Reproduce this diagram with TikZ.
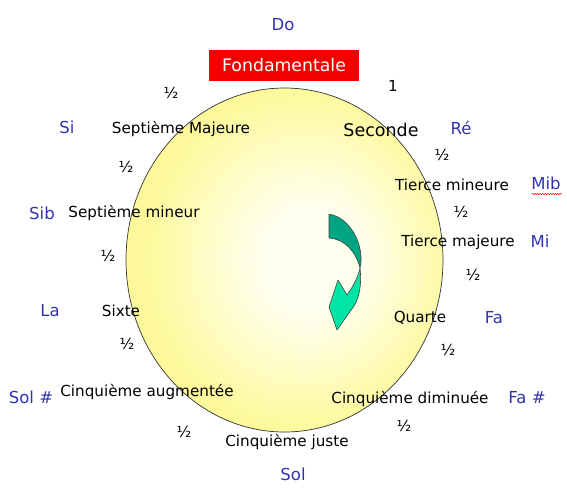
\documentclass[tikz,border=0pt]{standalone}
\usepackage{fontspec}
\setmainfont{DejaVu Sans}
\usetikzlibrary{decorations.pathmorphing}
\definecolor{notecol}{RGB}{50,50,175}
\definecolor{boxred}{RGB}{245,0,0}
\definecolor{cin}{RGB}{255,255,238}
\definecolor{cout}{RGB}{253,249,155}
\definecolor{darkarr}{RGB}{0,165,130}
\definecolor{lightarr}{RGB}{0,228,165}
\pgfdeclareradialshading{sunshade}{\pgfpoint{5bp}{0bp}}{color(0bp)=(cin); color(8bp)=(cin); color(25bp)=(cout); color(50bp)=(cout)}
\tikzset{
  note/.style={text=notecol, font=\fontsize{16.5}{19}\selectfont, inner sep=0pt},
  interval/.style={text=black, font=\fontsize{15.2}{18}\selectfont, inner sep=0pt},
  half/.style={text=black, font=\fontsize{15.2}{18}\selectfont, inner sep=0pt},
  arrpart/.style={draw=black!75, line width=0.6pt, line join=round},
}
\begin{document}
\begin{tikzpicture}[x=1pt,y=-1pt]
\useasboundingbox (0,0) rectangle (567,490);
% circle
\path[shading=sunshade, draw=black!80, line width=0.7pt] (284.5,260) ellipse [x radius=158.5, y radius=172];
% top box
\node[fill=boxred, text=white, minimum width=150pt, minimum height=31pt, inner sep=0pt,
      font=\fontsize{17.3}{20}\selectfont] (fond) at (284,65.5) {Fondamentale};
% arrow
\path[arrpart, fill=darkarr]
  (329,214) .. controls (352,218) and (365,248) .. (360,268)
  .. controls (356,252) and (345,239) .. (329,238) -- cycle;
\path[arrpart, fill=lightarr]
  (360,268) .. controls (362,285) and (359,298) .. (354,306)
  -- (337,330) -- (329,307) -- (338,280) -- (347,295)
  .. controls (352,288) and (358,278) .. (360,268) -- cycle;
% note names
\node[note] (do) at (283,25) {Do};
\node[note] (re) at (461,128) {Ré};
\node[note] (mib) at (546,183) {Mib};
\draw[red, line width=0.5pt, decorate, decoration={snake, amplitude=0.7pt, segment length=2.5pt}] (532,194) -- (562,194);
\node[note] (mi) at (540,241) {Mi};
\node[note] (fa) at (494,318) {Fa};
\node[note] (fad) at (527,398) {Fa \#};
\node[note] (sol) at (293,474) {Sol};
\node[note] (sold) at (31,397) {Sol \#};
\node[note] (la) at (50,311) {La};
\node[note] (sib) at (42,213) {Sib};
\node[note] (si) at (67,127) {Si};
% intervals
\node[interval, font=\fontsize{17.5}{20}\selectfont] (sec) at (381,130) {Seconde};
\node[interval] (tmin) at (452,185) {Tierce mineure};
\node[interval] (tmaj) at (458,242) {Tierce majeure};
\node[interval] (qua) at (420,318) {Quarte};
\node[interval] (cdim) at (410,399) {Cinquième diminuée};
\node[interval] (cjus) at (287,442) {Cinquième juste};
\node[interval] (caug) at (147,392) {Cinquième augmentée};
\node[interval] (six) at (121,311) {Sixte};
\node[interval] (smin) at (134,213) {Septième mineur};
\node[interval] (smaj) at (181,129) {Septième Majeure};
% steps
\node[half] (one) at (393,86) {1};
\node[half] (h1) at (442,155) {½};
\node[half] (h2) at (461,212) {½};
\node[half] (h3) at (473,275) {½};
\node[half] (h4) at (448,350) {½};
\node[half] (h5) at (404,426) {½};
\node[half] (h6) at (184,432) {½};
\node[half] (h7) at (127,344) {½};
\node[half] (h8) at (108,256) {½};
\node[half] (h9) at (126,167) {½};
\node[half] (h10) at (171,93) {½};
\end{tikzpicture}
\end{document}
